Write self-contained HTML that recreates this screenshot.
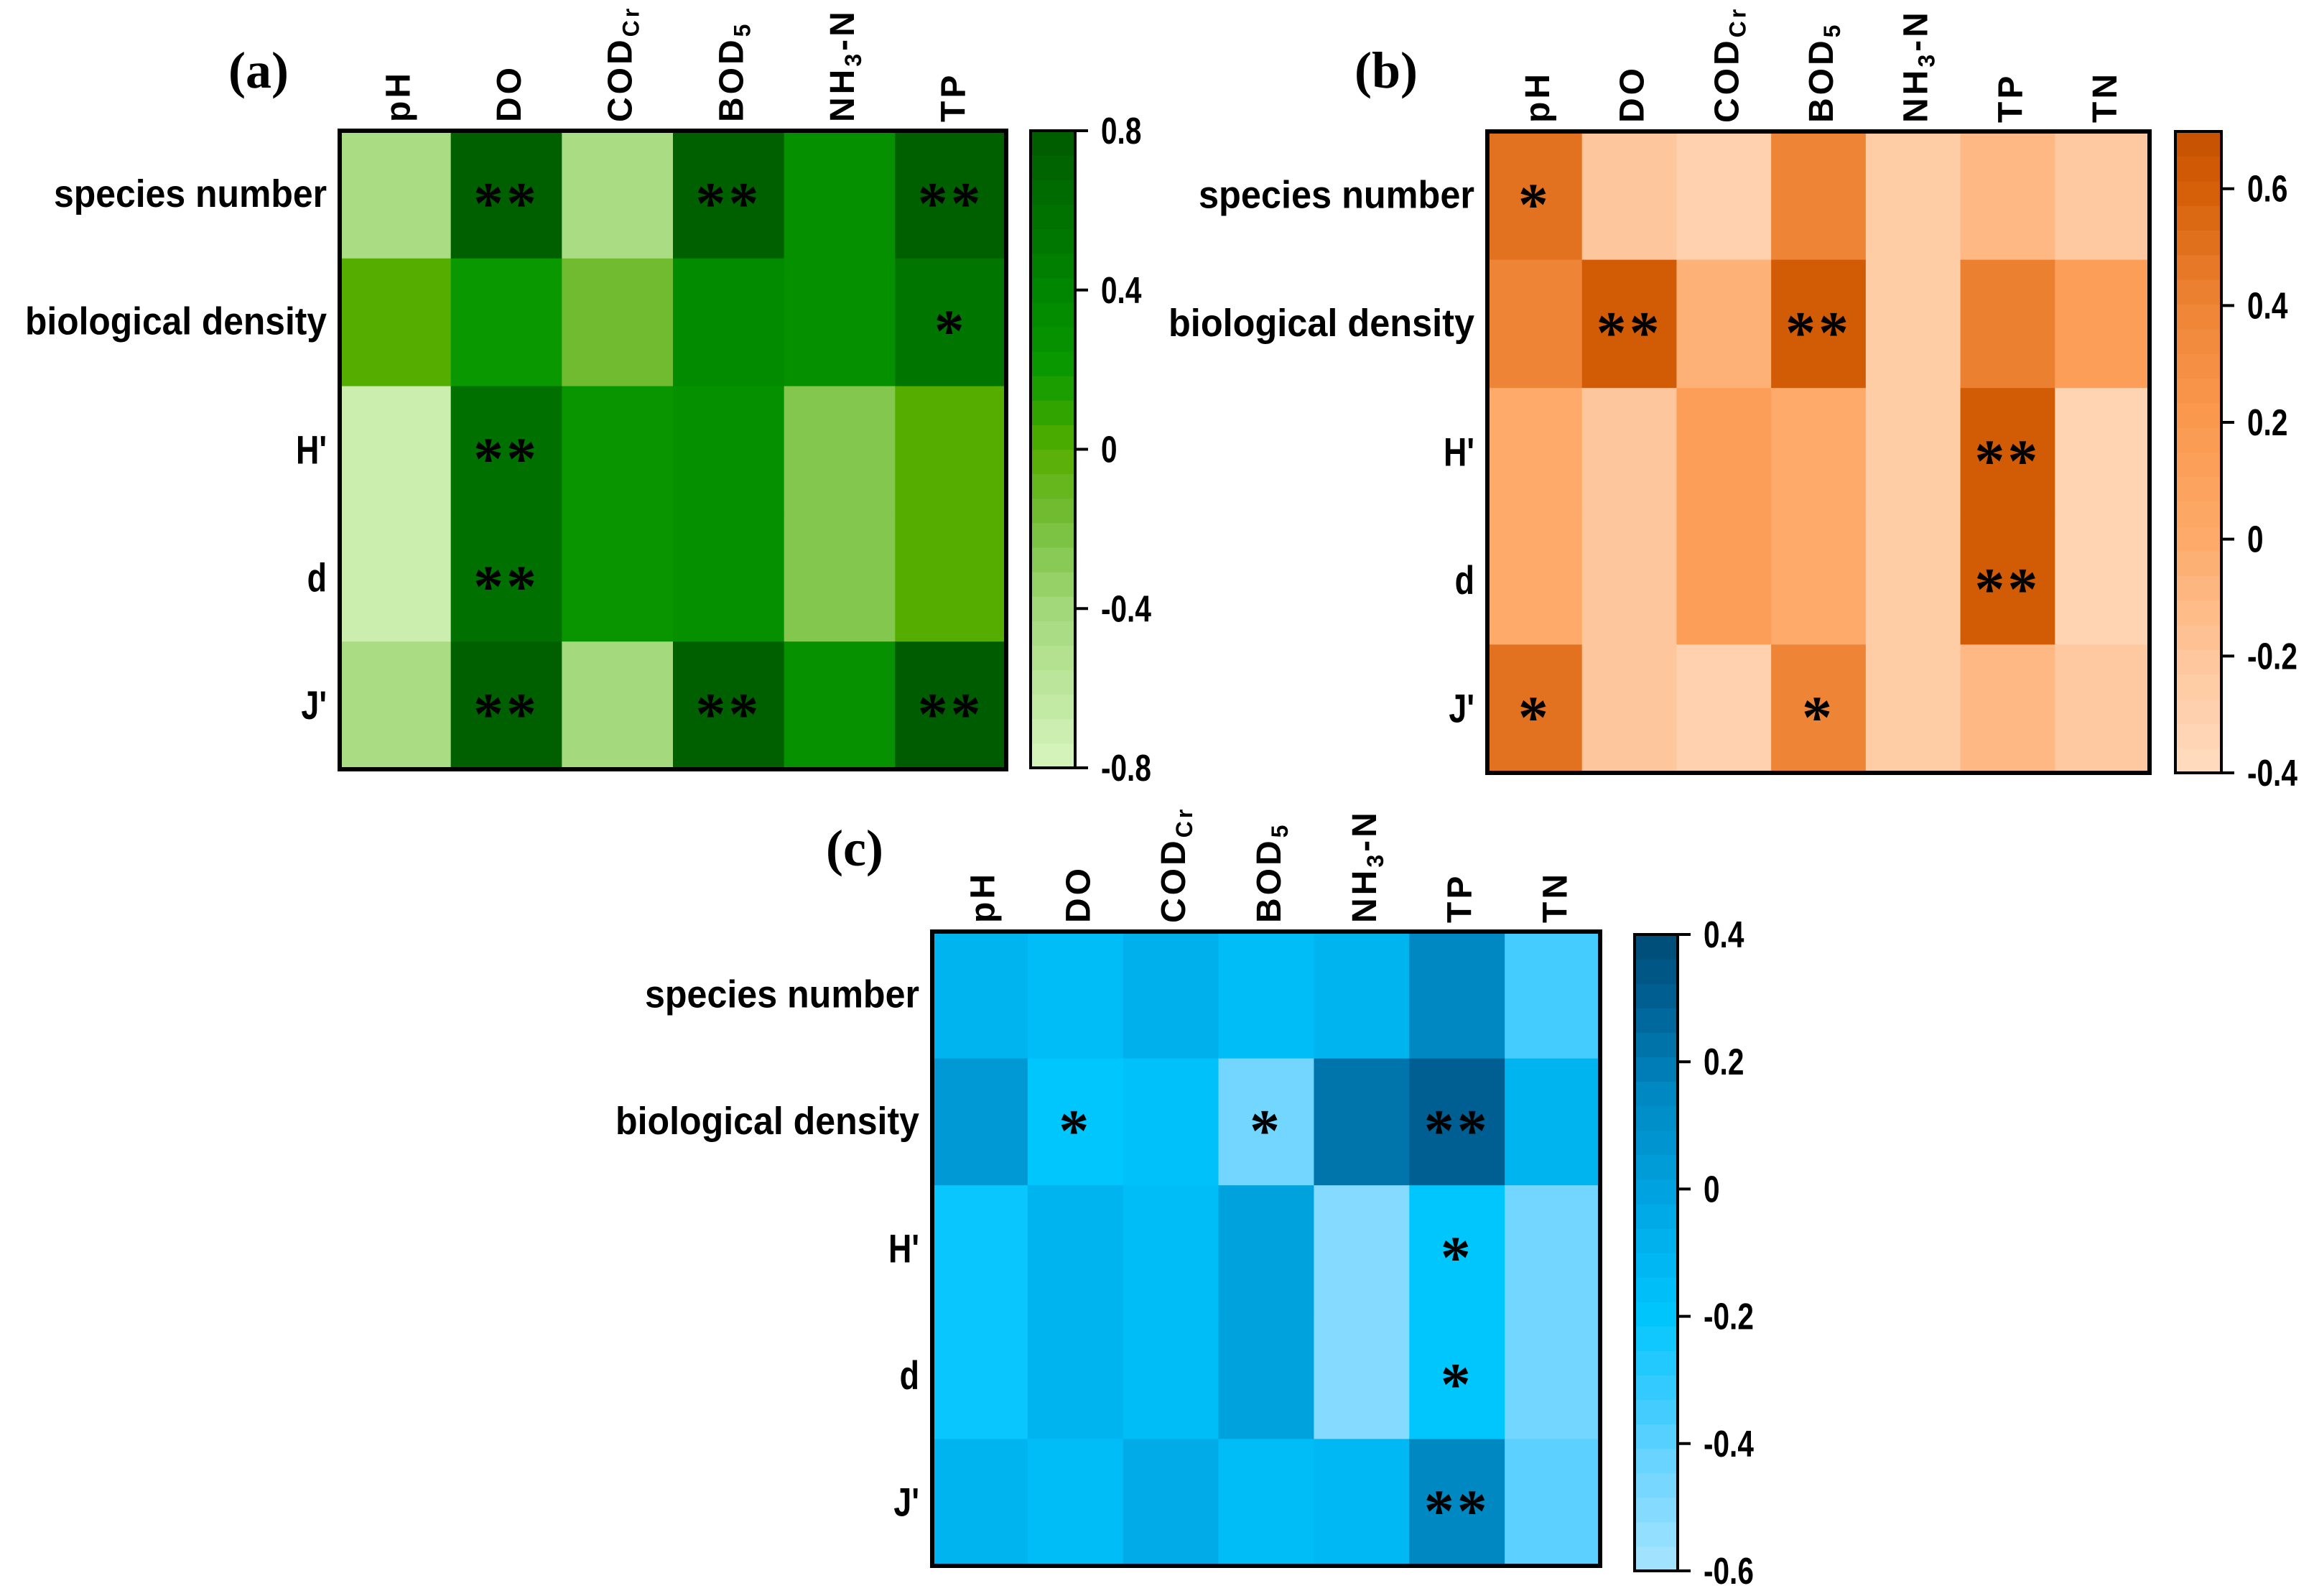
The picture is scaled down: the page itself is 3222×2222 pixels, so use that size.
<!DOCTYPE html>
<html><head><meta charset="utf-8">
<style>
html,body{margin:0;padding:0;background:#fff;}
svg{display:block;}
text{font-family:"Liberation Sans",Arial,sans-serif;font-weight:bold;fill:#000;}
.ser{font-family:"Liberation Serif","Times New Roman",serif;}
</style></head>
<body>
<svg id="fig" xmlns="http://www.w3.org/2000/svg" width="3222" height="2222" viewBox="0 0 3222 2222"></svg>
<script>
// ---- data ----
const rowLabels = ["species number","biological density","H'","d","J'"];
const colsA = ["pH","DO","COD|Cr","BOD|5","NH|3|-N","TP"];
const colsBC = ["pH","DO","COD|Cr","BOD|5","NH|3|-N","TP","TN"];
const valsA = [
  [-0.45, 0.75, -0.45, 0.75, 0.30, 0.75],
  [0.00, 0.22, -0.15, 0.35, 0.30, 0.55],
  [-0.70, 0.60, 0.25, 0.30, -0.25, 0.00],
  [-0.70, 0.60, 0.25, 0.30, -0.25, 0.00],
  [-0.45, 0.75, -0.42, 0.75, 0.28, 0.78]
];
const starsA = [
  ["","**","","**","","**"],
  ["","","","","","*"],
  ["","**","","","",""],
  ["","**","","","",""],
  ["","**","","**","","**"]
];
const valsB = [
  [0.50, -0.20, -0.30, 0.40, -0.25, -0.10, -0.22],
  [0.40, 0.62, -0.05, 0.62, -0.25, 0.42, 0.15],
  [0.00, -0.20, 0.15, 0.00, -0.25, 0.62, -0.33],
  [0.00, -0.20, 0.15, 0.00, -0.25, 0.62, -0.33],
  [0.50, -0.20, -0.30, 0.40, -0.25, -0.10, -0.22]
];
const starsB = [
  ["*","","","","","",""],
  ["","**","","**","","",""],
  ["","","","","","**",""],
  ["","","","","","**",""],
  ["*","","","*","","",""]
];
const valsC = [
  [-0.10, -0.15, -0.08, -0.15, -0.10, 0.15, -0.35],
  [0.05, -0.20, -0.17, -0.45, 0.22, 0.30, -0.10],
  [-0.22, -0.10, -0.15, 0.00, -0.50, -0.20, -0.45],
  [-0.22, -0.10, -0.15, 0.00, -0.50, -0.20, -0.45],
  [-0.10, -0.15, -0.05, -0.15, -0.12, 0.15, -0.40]
];
const starsC = [
  ["","","","","","",""],
  ["","*","","*","","**",""],
  ["","","","","","*",""],
  ["","","","","","*",""],
  ["","","","","","**",""]
];
const ticksA = [0.8, 0.4, 0, -0.4, -0.8];
const ticksB = [0.6, 0.4, 0.2, 0, -0.2, -0.4];
const ticksC = [0.4, 0.2, 0, -0.2, -0.4, -0.6];

// ---- color maps ----
const greenStops = [[-0.8,"#d8f5c0"],[-0.4,"#a2d87a"],[-0.15,"#70bb30"],[0,"#55ad00"],[0.2,"#0a9a00"],[0.4,"#008600"],[0.6,"#007000"],[0.8,"#005a00"]];
const orangeStops = [[-0.4,"#ffdcc0"],[-0.2,"#fec69c"],[0,"#fdaa6a"],[0.2,"#fb9a50"],[0.4,"#ee8436"],[0.6,"#d55f08"],[0.7,"#c44f00"]];
const blueStops = [[-0.6,"#a8e4ff"],[-0.45,"#72d6ff"],[-0.35,"#45ccff"],[-0.2,"#00c6fe"],[-0.1,"#00b4f0"],[0,"#00a2de"],[0.15,"#0088c2"],[0.3,"#005f92"],[0.4,"#004a74"]];

function hex2(c){return [1,3,5].map(i=>parseInt(c.substr(i,2),16));}
function cmap(stops,v){
  if(v<=stops[0][0]) return stops[0][1];
  for(let i=1;i<stops.length;i++){
    if(v<=stops[i][0]){
      const t=(v-stops[i-1][0])/(stops[i][0]-stops[i-1][0]);
      const a=hex2(stops[i-1][1]),b=hex2(stops[i][1]);
      return "rgb("+a.map((x,k)=>Math.round(x+(b[k]-x)*t)).join(",")+")";
    }
  }
  return stops[stops.length-1][1];
}

const NS="http://www.w3.org/2000/svg";
const svg=document.getElementById("fig");
function mk(tag,attrs,parent){const e=document.createElementNS(NS,tag);for(const k in attrs)e.setAttribute(k,attrs[k]);(parent||svg).appendChild(e);return e;}

function drawPanel(p){
  const g=mk("g",{});
  
  
  const nC=p.cols.length,nR=rowLabels.length;
  const cw=(p.x1-p.x0)/nC, rh=(p.y1-p.y0)/nR;
  const xc=j=>p.x0+cw*j, yr=i=>p.y0+rh*i;
  for(let i=0;i<nR;i++)for(let j=0;j<nC;j++){
    const r=mk("rect",{x:xc(j),y:yr(i),width:cw+0.6,height:rh+0.6,fill:cmap(p.stops,p.vals[i][j])},g);
    
    
    if(p.stars[i][j]){
      const s=mk("text",{x:xc(j)+cw/2,y:yr(i)+rh/2+p.starDy,"text-anchor":"middle","font-size":84,"class":"ser","letter-spacing":"4"},g);
      s.textContent=p.stars[i][j];
      
      
    }
  }
  const b=mk("rect",{x:p.x0,y:p.y0,width:p.x1-p.x0,height:p.y1-p.y0,fill:"none",stroke:"#000","stroke-width":6},g);
  
  
  const rlW=[p.rlSpecies,p.rlDensity];
  for(let i=0;i<nR;i++){
    let t;
    if(i<2){
      t=mk("text",{x:p.x0-18,y:yr(i)+rh/2+17,"text-anchor":"end","font-size":54,textLength:rlW[i],lengthAdjust:"spacingAndGlyphs"},g);
    } else {
      t=mk("text",{transform:`translate(${p.x0-18},${yr(i)+rh/2+19}) scale(0.8,1)`,"text-anchor":"end","font-size":56},g);
    }
    t.textContent=rowLabels[i];
    
    
  }
  for(let j=0;j<nC;j++){
    const cx=xc(j)+cw/2+20, cy=p.y0-12;
    const t=mk("text",{transform:`translate(${cx},${cy}) rotate(-90)`,"font-size":48,"letter-spacing":"4"},g);
    const parts=p.cols[j].split("|");
    parts.forEach((s,k)=>{
      const ts=mk("tspan",{},t);
      if(k%2===1){ts.setAttribute("font-size","32");ts.setAttribute("dy","10");}
      else if(k>0){ts.setAttribute("dy","-10");}
      ts.textContent=s;
    });
    
    
  }
  const cb=mk("g",{},g);
  
  
  const N=26, vy=v=>p.cy1-(v-p.vmin)/(p.vmax-p.vmin)*(p.cy1-p.cy0);
  for(let k=0;k<N;k++){
    const v0=p.vmin+(p.vmax-p.vmin)*k/N, v1=p.vmin+(p.vmax-p.vmin)*(k+1)/N;
    mk("rect",{x:p.cx0,y:vy(v1),width:p.cx1-p.cx0,height:vy(v0)-vy(v1)+0.6,fill:cmap(p.stops,(v0+v1)/2)},cb);
  }
  mk("rect",{x:p.cx0,y:p.cy0,width:p.cx1-p.cx0,height:p.cy1-p.cy0,fill:"none",stroke:"#000","stroke-width":4},cb);
  p.ticks.forEach(v=>{
    const y=vy(v);
    mk("line",{x1:p.cx1,x2:p.cx1+18,y1:y,y2:y,stroke:"#000","stroke-width":4},cb);
    const t=mk("text",{transform:`translate(${p.cx1+36},${y+18}) scale(0.78,1)`,"font-size":52},cb);
    t.textContent=String(v);
    
    
  });
  const pl=mk("text",{x:p.lx,y:p.ly,"text-anchor":"middle","font-size":72,"class":"ser"},g);
  pl.textContent=p.letter;
  
  
}

drawPanel({name:"panel-a",cols:colsA,vals:valsA,stars:starsA,stops:greenStops,
  x0:473,x1:1401,y0:182,y1:1071,cx0:1435,cx1:1497,cy0:182,cy1:1069,vmin:-0.8,vmax:0.8,ticks:ticksA,
  rlSpecies:380,rlDensity:420,starDy:40,letter:"(a)",lx:360,ly:122});
drawPanel({name:"panel-b",cols:colsBC,vals:valsB,stars:starsB,stops:orangeStops,
  x0:2071,x1:2993,y0:183,y1:1076,cx0:3029,cx1:3093,cy0:183,cy1:1076,vmin:-0.4,vmax:0.698,ticks:ticksB,
  rlSpecies:384,rlDensity:426,starDy:40,letter:"(b)",lx:1930,ly:122});
drawPanel({name:"panel-c",cols:colsBC,vals:valsC,stars:starsC,stops:blueStops,
  x0:1298,x1:2228,y0:1297,y1:2180,cx0:2276,cx1:2336,cy0:1301,cy1:2187,vmin:-0.6,vmax:0.4,ticks:ticksC,
  rlSpecies:382,rlDensity:423,starDy:40,letter:"(c)",lx:1190,ly:1205});
</script>
</body></html>
